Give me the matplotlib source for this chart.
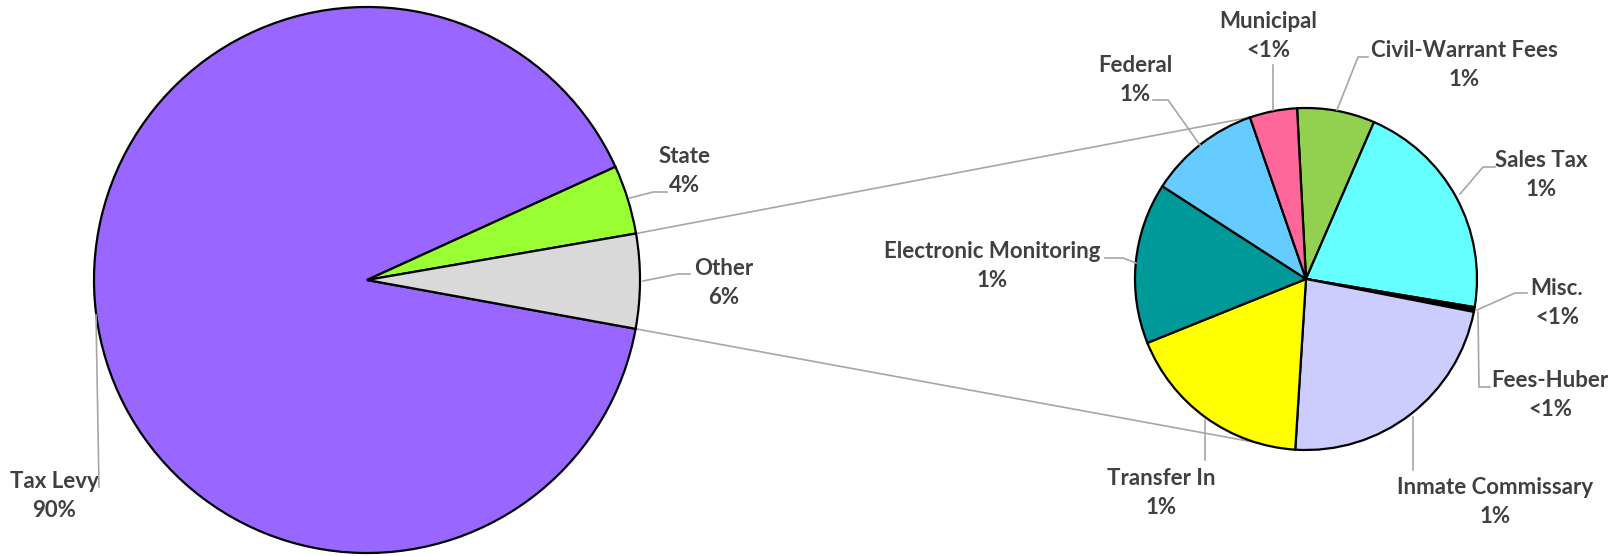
import matplotlib
matplotlib.use('Agg')
import matplotlib.pyplot as plt
import numpy as np

# Main pie data (share of total revenue, %)
main_labels = ['Tax Levy', 'State', 'Other']
main_pct = ['90%', '4%', '6%']
main_colors = ['#9966FF', '#99FF33', '#D9D9D9']

# Breakdown of "Other" (share of total revenue, %)
sub_labels = ['Civil-Warrant Fees', 'Sales Tax', 'Misc.', 'Fees-Huber',
              'Inmate Commissary', 'Transfer In', 'Electronic Monitoring',
              'Federal', 'Municipal']
sub_values = [0.41, 1.18, 0.019, 0.006, 1.28, 1.00, 0.85, 0.59, 0.25]
sub_pct = ['1%', '1%', '<1%', '<1%', '1%', '1%', '1%', '1%', '<1%']
sub_colors = ['#92D050', '#66FFFF', '#000000', '#FF9966', '#CCCCFF',
              '#FFFF00', '#009999', '#66CCFF', '#FF6699']

main_values = [90.33, 4.08, sum(sub_values)]

# --- layout (pixel coordinates, y measured from the top) ---
W, H = 1619, 556
main_center, main_r = (367, 280), 273
sub_center, sub_r = (1306, 279), 171

# label anchor: (x centre, baseline of first line)
main_pos = [(54, 488), (685, 163), (724, 275)]
sub_pos = [(1464, 57), (1541, 167), (1557, 295), (1550, 387), (1495, 494),
           (1161, 485), (992, 258), (1135, 72), (1268, 28)]
line_gap = 29

main_leaders = [
    [(96, 315), (99, 487)],
    [(630, 198), (653, 192), (667, 192)],
    [(643, 281), (678, 274), (690, 274)],
]
sub_leaders = [
    [(1337, 110), (1358, 57), (1368, 57)],
    [(1460, 194), (1483, 167), (1495, 167)],
    [(1477, 310), (1515, 293), (1527, 293)],
    [(1478, 312), (1479, 387), (1490, 387)],
    [(1413, 417), (1413, 470)],
    [(1205, 420), (1205, 460)],
    [(1136, 263), (1123, 258), (1105, 258)],
    [(1200, 145), (1168, 100), (1153, 100)],
    [(1273, 110), (1273, 65)],
]

text_color = '#404040'
line_color = '#A6A6A6'

fig = plt.figure(figsize=(16.19, 5.56), dpi=100)
ax = fig.add_axes([0, 0, 1, 1])

wedge_style = dict(edgecolor='black', linewidth=1.6)
ax.pie(main_values, colors=main_colors, startangle=-10.3, counterclock=False,
       center=(main_center[0], H - main_center[1]), radius=main_r,
       wedgeprops=wedge_style)
ax.pie(sub_values, colors=sub_colors, startangle=93.0, counterclock=False,
       center=(sub_center[0], H - sub_center[1]), radius=sub_r,
       wedgeprops=wedge_style)

# connector lines between the "Other" slice and the second pie
for a_main, a_sub in [(9.8, 109), (-10.3, 253)]:
    x0 = main_center[0] + main_r * np.cos(np.radians(a_main))
    y0 = H - main_center[1] + main_r * np.sin(np.radians(a_main))
    x1 = sub_center[0] + sub_r * np.cos(np.radians(a_sub))
    y1 = H - sub_center[1] + sub_r * np.sin(np.radians(a_sub))
    ax.plot([x0, x1], [y0, y1], color=line_color, lw=1.2, zorder=0)

font = dict(family='Lato', weight='bold', size=16, color=text_color)


def add_labels(names, pcts, positions, leaders):
    for name, pct, (x, y), path in zip(names, pcts, positions, leaders):
        ax.text(x, H - y, name, ha='center', va='baseline', **font)
        ax.text(x, H - y - line_gap, pct, ha='center', va='baseline', **font)
        px = [p[0] for p in path]
        py = [H - p[1] for p in path]
        ax.plot(px, py, color=line_color, lw=1.2, zorder=3)


add_labels(main_labels, main_pct, main_pos, main_leaders)
add_labels(sub_labels, sub_pct, sub_pos, sub_leaders)

ax.set_xlim(0, W)
ax.set_ylim(0, H)
ax.set_aspect('equal')
ax.axis('off')

fig.savefig('out.png', dpi=100)
